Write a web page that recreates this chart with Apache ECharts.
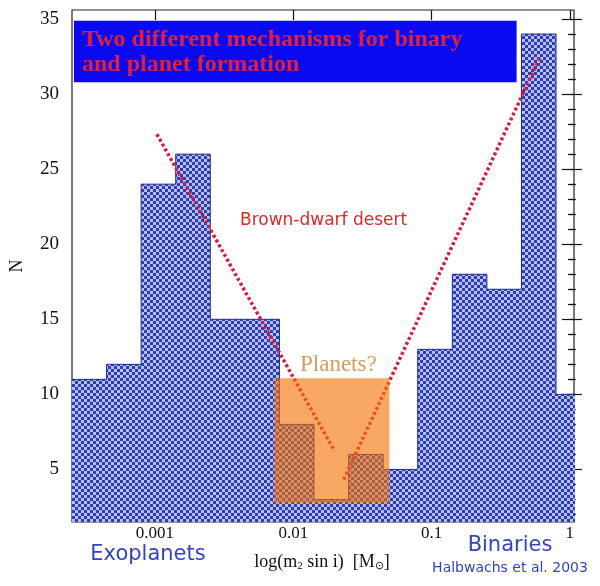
<!DOCTYPE html>
<html>
<head>
<meta charset="utf-8">
<script src="https://cdn.jsdelivr.net/npm/echarts@6/dist/echarts.min.js"></script>
<style>
html, body { margin: 0; padding: 0; background: #fff; }
#chart { width: 600px; height: 586px; }
</style>
</head>
<body>
<div id="chart"></div>
<script>
// histogram bins in log10(m2 sin i), 0.25 dex wide
const logEdges = [-3.6, -3.35, -3.1, -2.85, -2.6, -2.35, -2.1, -1.85, -1.6, -1.35, -1.1, -0.85, -0.6, -0.35, -0.1, 0.15];
const counts = [11, 12, 24, 26, 15, 15, 8, 3, 6, 5, 13, 18, 17, 34, 10];

const xTickLogs = [-3, -2, -1, 0];
const xTickLabels = ['0.001', '0.01', '0.1', '1'];
const yMajor = [5, 10, 15, 20, 25, 30, 35];
const yMinor = [2, 3, 4, 6, 7, 8, 9, 11, 12, 13, 14, 16, 17, 18, 19, 21, 22, 23, 24, 26, 27, 28, 29, 31, 32, 33, 34];

// dotted "brown-dwarf desert" guide lines [log m, N]
const desertLeft = [[-2.986, 27.33], [-1.701, 6.22]];
const desertRight = [[-1.635, 4.33], [-0.212, 32.55]];

// boxes: [x0, x1, y0, y1]
const titleBox = [[-3.586, -0.385, 30.78, 34.89]];
const planetBox = [[-2.138, -1.305, 2.75, 11.07]];

const X_MIN = -3.6, X_MAX = 0.03, Y_MIN = 1.5, Y_MAX = 35.6;

// step outline points for the histogram
const histData = counts.map((c, i) => [logEdges[i], c]);
histData.push([logEdges[logEdges.length - 1], counts[counts.length - 1]]);

// checkered blue fill like the scanned hatch
const pat = document.createElement('canvas');
pat.width = 6; pat.height = 6;
const g = pat.getContext('2d');
g.fillStyle = '#b4befa'; g.fillRect(0, 0, 6, 6);
g.fillStyle = '#2e3eb2'; g.fillRect(0, 0, 3, 3); g.fillRect(3, 3, 3, 3);

const serif = 'Liberation Serif';

function boxItem(params, api) {
  const p0 = api.coord([api.value(0), api.value(3)]);
  const p1 = api.coord([api.value(1), api.value(2)]);
  return {
    type: 'rect',
    shape: { x: p0[0], y: p0[1], width: p1[0] - p0[0], height: p1[1] - p0[1] },
    style: api.style()
  };
}

function xAxisOf(pos) {
  return {
    type: 'value', position: pos, min: X_MIN, max: X_MAX,
    axisLine: { show: false }, splitLine: { show: false },
    axisTick: { inside: true, length: 10, customValues: xTickLogs, lineStyle: { color: '#111', width: 1.2 } },
    axisLabel: {
      show: pos === 'bottom', customValues: xTickLogs, margin: 3,
      fontFamily: serif, fontSize: 17, color: '#111',
      formatter: v => xTickLabels[xTickLogs.indexOf(v)]
    }
  };
}

function yAxisOf(pos, major) {
  return {
    type: 'value', position: pos, min: Y_MIN, max: Y_MAX, offset: 0,
    axisLine: { show: false }, splitLine: { show: false },
    axisTick: { inside: true, length: major ? 12 : 6, customValues: major ? yMajor : yMinor, lineStyle: { color: '#111', width: 1.2 } },
    axisLabel: { show: major && pos === 'left', customValues: yMajor, margin: 13, fontFamily: serif, fontSize: 19, color: '#111' }
  };
}

const chart = echarts.init(document.getElementById('chart'));
const yAxes = [yAxisOf('left', true), yAxisOf('left', false), yAxisOf('right', true), yAxisOf('right', false)];
yAxes[0].name = 'N';
yAxes[0].nameLocation = 'middle';
yAxes[0].nameRotate = 90;
yAxes[0].nameGap = 46;
yAxes[0].nameTextStyle = { fontFamily: serif, fontSize: 18, color: '#111' };

chart.setOption({
  animation: false,
  grid: { left: 70, right: 26, top: 10, bottom: 64, show: true, borderColor: '#222', borderWidth: 1.2, backgroundColor: 'transparent' },
  xAxis: [xAxisOf('bottom'), xAxisOf('top')],
  yAxis: yAxes,
  series: [
    {
      name: 'N', type: 'line', step: 'end', data: histData, symbol: 'none', z: 2, silent: true,
      lineStyle: { color: '#1c2a96', width: 1 },
      areaStyle: { color: { image: pat, repeat: 'repeat' }, opacity: 1, origin: 'start' }
    },
    {
      type: 'line', data: desertLeft, symbol: 'none', z: 3, silent: true,
      lineStyle: { color: '#d42040', width: 3.5, type: [3, 2.5] }
    },
    {
      type: 'line', data: desertRight, symbol: 'none', z: 3, silent: true,
      lineStyle: { color: '#d42040', width: 3.5, type: [3, 2.5] }
    },
    {
      type: 'custom', data: titleBox, renderItem: boxItem, z: 4, silent: true,
      itemStyle: { color: '#0a0af2' }
    },
    {
      type: 'custom', data: planetBox, renderItem: boxItem, z: 5, silent: true,
      itemStyle: { color: 'rgba(245,114,4,0.62)' }
    }
  ],
  graphic: [
    { type: 'text', z: 100, x: 82, y: 39.8, style: { text: 'Two different mechanisms for binary', font: 'bold 24px "Liberation Serif"', fill: '#e0203a', verticalAlign: 'middle' } },
    { type: 'text', z: 100, x: 82, y: 64.8, style: { text: 'and planet formation', font: 'bold 24px "Liberation Serif"', fill: '#e0203a', verticalAlign: 'middle' } },
    { type: 'text', z: 100, x: 240, y: 221, style: { text: 'Brown-dwarf desert', font: '17px "DejaVu Sans"', fill: '#e02828', verticalAlign: 'middle' } },
    { type: 'text', z: 100, x: 300, y: 365, style: { text: 'Planets?', font: '23px "Liberation Serif"', fill: '#d89c58', verticalAlign: 'middle' } },
    { type: 'text', z: 100, x: 148, y: 555, style: { text: 'Exoplanets', font: '21px "DejaVu Sans"', fill: '#3344c4', align: 'center', verticalAlign: 'middle' } },
    { type: 'text', z: 100, x: 510, y: 545.5, style: { text: 'Binaries', font: '21px "DejaVu Sans"', fill: '#3344c4', align: 'center', verticalAlign: 'middle' } },
    { type: 'text', z: 100, x: 510, y: 568.5, style: { text: 'Halbwachs et al. 2003', font: '14px "DejaVu Sans"', fill: '#3344c4', align: 'center', verticalAlign: 'middle' } },
    {
      type: 'text', z: 100, x: 322, y: 562,
      style: {
        text: 'log(m{s|2} sin i)  [M{s|⊙}]', font: '18px "Liberation Serif"', fill: '#111', align: 'center', verticalAlign: 'middle',
        rich: { s: { fontFamily: serif, fontSize: 11, padding: [9, 0, 0, 0] } }
      }
    }
  ]
});
</script>
</body>
</html>
